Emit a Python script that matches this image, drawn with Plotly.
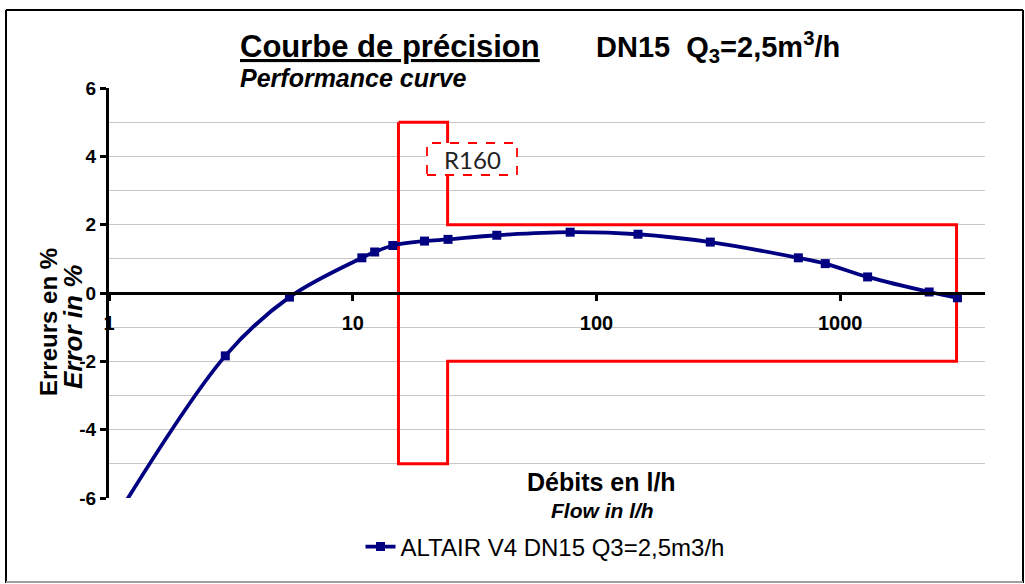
import plotly.graph_objects as go

# ---- data ----
flow_lh = [1.0, 3.0, 5.5, 10.9, 12.3, 14.6, 19.7, 24.6, 39, 78, 148, 293, 673, 868, 1295, 2316, 3025]
error_pct = [-6.9, -1.84, -0.12, 1.03, 1.20, 1.39, 1.52, 1.57, 1.69, 1.78, 1.72, 1.49, 1.03, 0.86, 0.47, 0.03, -0.14]

# MPE envelope (R160)
q1, q2, q4 = 15.4, 24.5, 3000
mpe_low_zone, mpe_high_zone = 5, 2
env_x = [q1, q2, q2, q4, q4, q2, q2, q1, q1]
env_y = [mpe_low_zone, mpe_low_zone, mpe_high_zone, mpe_high_zone,
         -mpe_high_zone, -mpe_high_zone, -mpe_low_zone, -mpe_low_zone, mpe_low_zone]

x_tickvals = [1, 10, 100, 1000]
x_ticktext = ["1", "10", "100", "1000"]
y_tickvals = [-6, -4, -2, 0, 2, 4, 6]
y_ticktext = ["-6", "-4", "-2", "0", "2", "4", "6"]

FONT = "Liberation Sans, Arial, sans-serif"
NAVY = "#000080"

fig = go.Figure()

fig.add_trace(go.Scatter(
    x=env_x, y=env_y, mode="lines",
    line=dict(color="#ff0000", width=3),
    showlegend=False, hoverinfo="skip",
))

fig.add_trace(go.Scatter(
    x=flow_lh, y=error_pct, mode="lines+markers",
    name="ALTAIR V4 DN15 Q3=2,5m3/h",
    line=dict(color=NAVY, width=3.8, shape="spline"),
    marker=dict(symbol="square", size=9, color=NAVY),
))

W, H = 1025, 584
L, R, T, B = 109, 40, 88, 86
pw, ph = W - L - R, H - T - B

def px(xp):
    return (xp - L) / pw

def py(yp):
    return (H - B - yp) / ph

annotations = [
    dict(text="<b><u>Courbe de précision</u></b>", x=px(238), y=py(47), xanchor="left", yanchor="middle",
         font=dict(size=31, family=FONT, color="black")),
    dict(text="<b>DN15  Q<sub>3</sub>=2,5m<sup>3</sup>/h</b>", x=px(594), y=py(47), xanchor="left", yanchor="middle",
         font=dict(size=29, family=FONT, color="black")),
    dict(text="<b><i>Performance curve</i></b>", x=px(238), y=py(78), xanchor="left", yanchor="middle",
         font=dict(size=25, family=FONT, color="black")),
    dict(text="<b>Débits en l/h</b>", x=px(601), y=py(482), xanchor="center", yanchor="middle",
         font=dict(size=25, family=FONT, color="black")),
    dict(text="<b><i>Flow in l/h</i></b>", x=px(602), y=py(510), xanchor="center", yanchor="middle",
         font=dict(size=21, family=FONT, color="black")),
    dict(text="<b>Erreurs en %</b>", x=px(48), y=py(322), xanchor="center", yanchor="middle", textangle=-90,
         font=dict(size=24, family=FONT, color="black")),
    dict(text="<b><i>Error in %</i></b>", x=px(73), y=py(327), xanchor="center", yanchor="middle", textangle=-90,
         font=dict(size=26, family=FONT, color="black")),
    dict(text="R160", x=px(472), y=py(159), xanchor="center", yanchor="middle",
         font=dict(size=24, family="Lato, Liberation Sans, sans-serif", color="#222222")),
]
for a in annotations:
    a.update(xref="paper", yref="paper", showarrow=False)

shapes = [
    # R160 label box
    dict(type="rect", xref="paper", yref="paper", x0=px(427), x1=px(517), y0=py(175), y1=py(143),
         line=dict(color="#ff0000", width=1.8, dash="dash"), fillcolor="white", layer="above"),
    # outer chart border
    dict(type="line", xref="paper", yref="paper", x0=px(6), x1=px(6), y0=py(583), y1=py(10),
         line=dict(color="black", width=2)),
    dict(type="line", xref="paper", yref="paper", x0=px(6), x1=px(1023), y0=py(10), y1=py(10),
         line=dict(color="black", width=2)),
    dict(type="line", xref="paper", yref="paper", x0=px(1023), x1=px(1023), y0=py(10), y1=py(583),
         line=dict(color="black", width=2)),
    dict(type="line", xref="paper", yref="paper", x0=px(6), x1=px(1023), y0=py(582), y1=py(582),
         line=dict(color="#a0a0a0", width=2)),
]

fig.update_layout(
    width=W, height=H,
    margin=dict(l=L, r=R, t=T, b=B, pad=0),
    paper_bgcolor="white", plot_bgcolor="white",
    font=dict(family=FONT, color="black"),
    showlegend=True,
    legend=dict(orientation="h", x=px(545), y=py(547), xanchor="center", yanchor="middle",
                font=dict(size=24, family=FONT, color="black"), bgcolor="rgba(0,0,0,0)"),
    annotations=annotations,
    shapes=shapes,
    xaxis=dict(
        type="log", range=[0, 876 / 243.75], anchor="free", position=0.5,
        showline=True, linecolor="black", linewidth=3,
        ticks="outside", ticklen=6, tickwidth=3, tickcolor="black",
        tickvals=x_tickvals, ticktext=x_ticktext, ticklabelstandoff=5,
        tickfont=dict(size=20, family=FONT, color="black", weight="bold"),
        showgrid=False, zeroline=False,
    ),
    yaxis=dict(
        range=[-6, 6], tickvals=y_tickvals, ticktext=y_ticktext,
        showline=True, linecolor="black", linewidth=3,
        ticks="outside", ticklen=6, tickwidth=3, tickcolor="black",
        tickfont=dict(size=19, family=FONT, color="black", weight="bold"),
        showgrid=True, gridcolor="#c8c8c8", gridwidth=1, zeroline=False,
        minor=dict(dtick=1, showgrid=True, gridcolor="#c8c8c8", gridwidth=1, ticks=""),
    ),
)

fig.write_html("out.html", config={"displayModeBar": False},
               post_script="document.body.style.margin='0';")
